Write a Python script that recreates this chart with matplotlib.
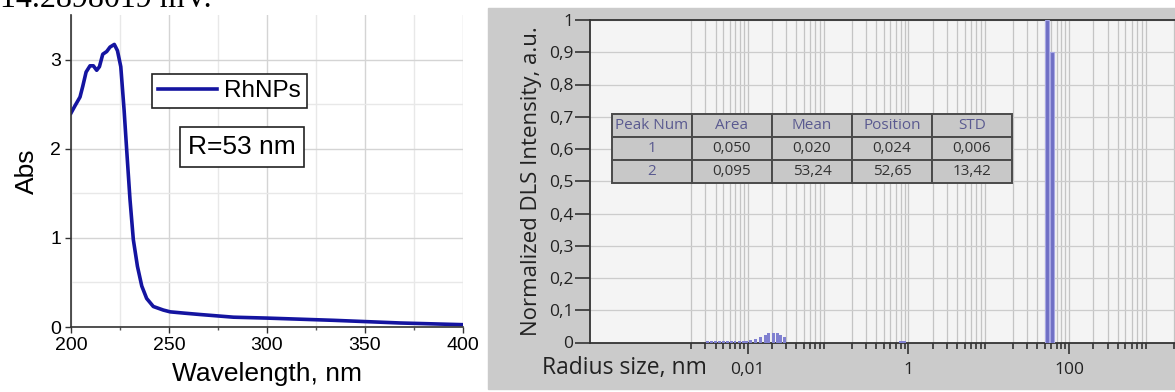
import numpy as np
import matplotlib
matplotlib.use('Agg')
import matplotlib.pyplot as plt
from matplotlib.patches import Rectangle
from matplotlib.ticker import FixedLocator, FuncFormatter, MultipleLocator

# UV-vis spectrum (left)
wavelength = [200, 202, 204.6, 206, 207.7, 209.7, 211.4, 213.1, 214.5, 216.2, 218.2, 219.9,
              222.1, 223.7, 225.4, 227.1, 228.4, 230.1, 231.8, 233.9, 236.1, 238.6, 242,
              247.1, 250.6, 258, 265.9, 282.9, 299.9, 333.9, 368, 400]
absorb = [2.40, 2.48, 2.58, 2.70, 2.86, 2.93, 2.93, 2.88, 2.92, 3.06, 3.09, 3.14,
          3.17, 3.10, 2.92, 2.43, 1.99, 1.43, 0.98, 0.68, 0.46, 0.32, 0.23,
          0.19, 0.17, 0.155, 0.14, 0.11, 0.10, 0.075, 0.045, 0.026]

# DLS histogram (right)
small_r = [0.0032, 0.0036, 0.0040, 0.0045, 0.0050, 0.0056, 0.0063, 0.0070, 0.0079, 0.0089,
           0.0098, 0.0109, 0.0126, 0.0145, 0.0168, 0.0183, 0.0211, 0.0237, 0.0259, 0.029,
           0.80, 0.85, 0.90]
small_h = [0.004, 0.004, 0.004, 0.004, 0.004, 0.004, 0.004, 0.004, 0.004, 0.004,
           0.004, 0.009, 0.012, 0.018, 0.023, 0.028, 0.030, 0.028, 0.023, 0.016,
           0.006, 0.006, 0.006]
peak_r = [53.6, 60.8]
peak_h = [1.0, 0.90]

col_labels = ['Peak Num', 'Area', 'Mean', 'Position', 'STD']
table_rows = [['1', '0,050', '0,020', '0,024', '0,006'],
              ['2', '0,095', '53,24', '52,65', '13,42']]

W, H = 1175, 392
fig = plt.figure(figsize=(W / 100, H / 100), dpi=100)
fig.patch.set_facecolor('white')

# clipped line of text from the page above
fig.text(0 / W, 1 - 7 / H, '14.2898019 mV.', family='Liberation Serif', fontsize=23,
         va='baseline', ha='left', color='black')

# ---------- left panel ----------
ax1 = fig.add_axes([71 / W, 1 - 327 / H, 392 / W, 312 / H])
ax1.plot(wavelength, absorb, color='#1414a0', lw=2.6, label='RhNPs')
ax1.set_xlim(200, 400)
ax1.set_ylim(0, 3.5)
ax1.xaxis.set_major_locator(MultipleLocator(50))
ax1.xaxis.set_minor_locator(MultipleLocator(25))
ax1.yaxis.set_major_locator(FixedLocator([0, 1, 2, 3]))
ax1.yaxis.set_minor_locator(FixedLocator([0.5, 1.5, 2.5]))
ax1.grid(which='major', color='#d4d4d4', lw=1)
ax1.grid(which='minor', color='#e8e8e8', lw=1)
ax1.set_axisbelow(True)
for s in ['top', 'right']:
    ax1.spines[s].set_visible(False)
for s in ['left', 'bottom']:
    ax1.spines[s].set_color('#333333')
    ax1.spines[s].set_linewidth(1.2)
ax1.tick_params(which='major', length=4, width=1, color='#333333', labelsize=14, pad=3)
ax1.tick_params(which='minor', length=2.5, width=1, color='#555555')
ax1.tick_params(axis='y', which='minor', length=0)
for lab in ax1.get_xticklabels() + ax1.get_yticklabels():
    lab.set_family('Liberation Sans')
ax1.set_xlabel('Wavelength, nm', family='Liberation Sans', fontsize=19, labelpad=6)
ax1.set_ylabel('Abs', family='Liberation Sans', fontsize=19, labelpad=8)
leg = ax1.legend(loc='upper left', bbox_to_anchor=(0.207, 0.811), borderaxespad=0,
                 prop={'family': 'Liberation Sans', 'size': 17.5}, handlelength=2.4,
                 fancybox=False, framealpha=1, edgecolor='#222222', borderpad=0.25,
                 handletextpad=0.3)
leg.get_frame().set_linewidth(1.2)
ax1.text(0.436, 0.577, 'R=53 nm', transform=ax1.transAxes, ha='center', va='center',
         family='Liberation Sans', fontsize=19,
         bbox=dict(boxstyle='square,pad=0.3', fc='white', ec='#222222', lw=1.2))

# ---------- right panel ----------
fig.patches.append(Rectangle((488 / W, 3 / H), 1 - 488 / W, (H - 11) / H,
                             transform=fig.transFigure, color='#cbcbcb', zorder=-5))

ax2 = fig.add_axes([590 / W, 1 - 342.5 / H, 640 / W, 322.5 / H])
ax2.set_facecolor('#f4f4f4')
ax2.set_xscale('log')
ax2.set_xlim(1.1e-4, 1e4)
ax2.set_ylim(0, 1)

major = [0.01, 1, 100]
minor = [k * 10.0 ** n for n in range(-3, 4) for k in range(2, 10)]
ax2.xaxis.set_major_locator(FixedLocator(major))
ax2.xaxis.set_minor_locator(FixedLocator(minor))
ax2.xaxis.set_major_formatter(FuncFormatter(lambda v, p: ('%g' % v).replace('.', ',')))
ax2.xaxis.set_minor_formatter(FuncFormatter(lambda v, p: ''))
ax2.yaxis.set_major_locator(FixedLocator(np.arange(0, 1.01, 0.1)))
ax2.yaxis.set_major_formatter(FuncFormatter(lambda v, p: ('%g' % round(v, 1)).replace('.', ',')))
ax2.grid(which='both', axis='x', color='#c4c4c4', lw=0.9)
ax2.grid(which='major', axis='y', color='#cccccc', lw=0.9)
ax2.set_axisbelow(True)

def log_bars(ax, r, h, w, **kw):
    r = np.asarray(r)
    left = r * 10 ** (-w / 2)
    right = r * 10 ** (w / 2)
    ax.bar(left, h, width=right - left, align='edge', **kw)

log_bars(ax2, small_r, small_h, 0.035, color='#8080d0', lw=0, zorder=3)
log_bars(ax2, peak_r, peak_h, 0.052, facecolor='#6f6fc4', edgecolor='#a8a8e4', lw=0.8, zorder=3)

for s in ['top', 'left', 'bottom']:
    ax2.spines[s].set_color('#333333')
    ax2.spines[s].set_linewidth(1.3)
ax2.spines['right'].set_visible(False)
ax2.tick_params(axis='x', which='major', length=8, width=1.2, color='#333333',
                labelsize=12.5, pad=6)
ax2.tick_params(axis='x', which='minor', length=4.3, width=1.2, color='#333333')
ax2.tick_params(axis='y', which='major', length=10.8, width=1.2, color='#333333',
                labelsize=12.5, pad=1)
for lab in ax2.get_xticklabels() + ax2.get_yticklabels():
    lab.set_family('Open Sans')
    lab.set_color('#222222')

ax2.set_ylabel('Normalized DLS Intensity, a.u.', family='Open Sans', fontsize=16,
               color='#222222', labelpad=5)
fig.text(542 / W, 1 - 368 / H, 'Radius size, nm', family='Open Sans', fontsize=16.5,
         color='#222222', ha='left', va='center')

tbl = ax2.table(cellText=table_rows, colLabels=col_labels, cellLoc='center',
                bbox=[22 / 640, 0.4946, 400 / 640, 0.214])
tbl.auto_set_font_size(False)
for (row, col), cell in tbl.get_celld().items():
    cell.set_facecolor('#c8c8c8')
    cell.set_edgecolor('#4a4a4a')
    cell.set_linewidth(1.4)
    txt = cell.get_text()
    txt.set_family('Open Sans')
    txt.set_fontsize(11)
    if row == 0 or col == 0:
        txt.set_color('#5a5a90')
    else:
        txt.set_color('#333333')
tbl.set_zorder(4)

fig.savefig('out.png', dpi=100)
